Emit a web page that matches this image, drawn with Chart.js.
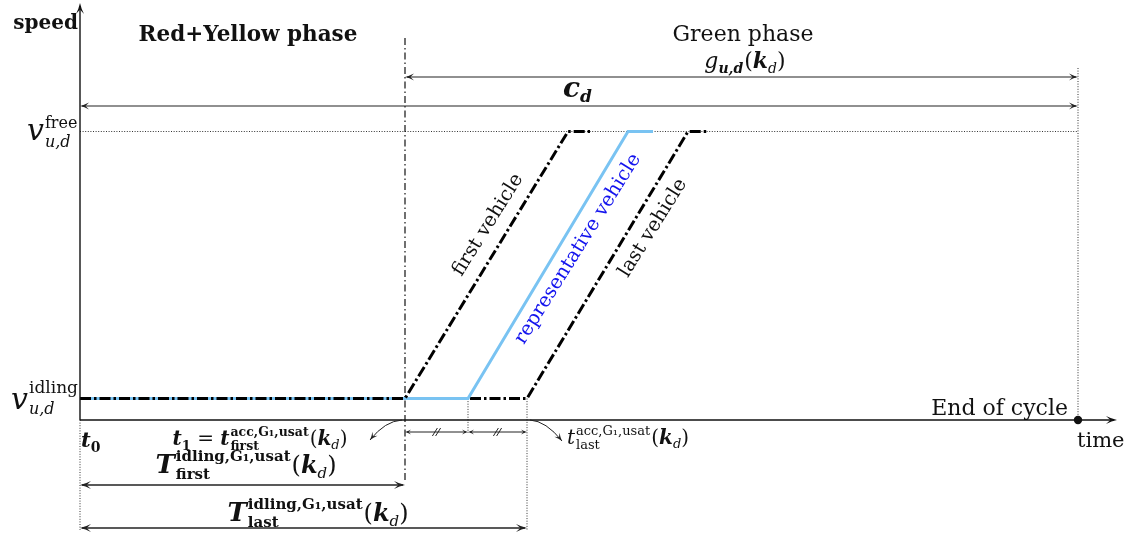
<!DOCTYPE html>
<html>
<head>
<meta charset="utf-8">
<script src="https://cdn.jsdelivr.net/npm/chart.js@4.4.0/dist/chart.umd.min.js"></script>
<style>
  html, body { margin: 0; padding: 0; background: #fff; }
  canvas { display: block; }
</style>
</head>
<body>
<canvas id="chart" width="1138" height="539"></canvas>
<script>
// speed levels
const vIdle = 2.15;
const vFree = 28.85;

// vehicle trajectories (time stamps, shared speed profile)
const firstTimes = [0, 32.5, 48.8, 51.0];
const repTimes = [0, 38.8, 54.8, 57.3];
const lastTimes = [0, 44.7, 60.8, 62.8];
const profileSpeeds = [vIdle, vIdle, vFree, vFree];

// cycle timing
const t1 = firstTimes[1];
const tRep = repTimes[1];
const tLast = lastTimes[1];
const cycleEnd = 99.8;

const INK = '#111';
const BLUE_LINE = '#79c3f2';
const BLUE_TEXT = '#1414ee';
const SERIF = '"DejaVu Serif", "Liberation Serif", serif';
const R = s => `normal ${s}px ${SERIF}`;
const I = s => `italic ${s}px ${SERIF}`;
const B = s => `bold ${s}px ${SERIF}`;
const BI = s => `italic bold ${s}px ${SERIF}`;

function toPoints(times) {
  return times.map((t, i) => ({ x: t, y: profileSpeeds[i] }));
}

// text made of runs; a run with stack:true starts where the previous one did
function drawMath(ctx, runs, x, y, align, color) {
  let cx = 0, start = 0;
  const placed = [];
  for (const r of runs) {
    ctx.font = r.f;
    const w = ctx.measureText(r.t).width;
    const sx = r.stack ? start : cx + (r.dx || 0);
    start = sx;
    placed.push({ r, sx });
    cx = Math.max(cx, sx + w);
  }
  let ox = x;
  if (align === 'center') ox = x - cx / 2;
  else if (align === 'right') ox = x - cx;
  ctx.fillStyle = color || INK;
  ctx.textAlign = 'left';
  ctx.textBaseline = 'alphabetic';
  for (const p of placed) {
    ctx.font = p.r.f;
    ctx.fillText(p.r.t, ox + p.sx, y + (p.r.dy || 0));
  }
}

function drawRotated(ctx, text, x, y, ang, f, color) {
  ctx.save();
  ctx.translate(x, y);
  ctx.rotate(ang);
  ctx.font = f;
  ctx.fillStyle = color;
  ctx.textAlign = 'center';
  ctx.textBaseline = 'middle';
  ctx.fillText(text, 0, 0);
  ctx.restore();
}

function arrowHead(ctx, x, y, ang, len, half) {
  ctx.save();
  ctx.translate(x, y);
  ctx.rotate(ang);
  ctx.beginPath();
  ctx.moveTo(0, 0);
  ctx.quadraticCurveTo(-len * 0.5, -half * 0.3, -len, -half);
  ctx.lineTo(-len * 0.6, 0);
  ctx.lineTo(-len, half);
  ctx.quadraticCurveTo(-len * 0.5, half * 0.3, 0, 0);
  ctx.fill();
  ctx.restore();
}

function hLine(ctx, xa, xb, y, dash, lw) {
  ctx.save();
  ctx.setLineDash(dash || []);
  ctx.lineWidth = lw || 1;
  ctx.beginPath();
  ctx.moveTo(xa, y);
  ctx.lineTo(xb, y);
  ctx.stroke();
  ctx.restore();
}

function vLine(ctx, x, ya, yb, dash, lw) {
  ctx.save();
  ctx.setLineDash(dash || []);
  ctx.lineWidth = lw || 1;
  ctx.beginPath();
  ctx.moveTo(x, ya);
  ctx.lineTo(x, yb);
  ctx.stroke();
  ctx.restore();
}

function dimArrow(ctx, xa, xb, y, len, half, lw) {
  hLine(ctx, xa + 2, xb - 2, y, null, lw);
  arrowHead(ctx, xa, y, Math.PI, len, half);
  arrowHead(ctx, xb, y, 0, len, half);
}

function curvedArrow(ctx, s, c, e) {
  ctx.save();
  ctx.lineWidth = 1;
  ctx.beginPath();
  ctx.moveTo(s[0], s[1]);
  ctx.quadraticCurveTo(c[0], c[1], e[0], e[1]);
  ctx.stroke();
  arrowHead(ctx, e[0], e[1], Math.atan2(e[1] - c[1], e[0] - c[0]), 8, 3.2);
  ctx.restore();
}

const DOTTED = [1, 1.6];

const diagram = {
  id: 'diagram',
  beforeDatasetsDraw(chart) {
    const { ctx, scales: { x, y } } = chart;
    const X = t => x.getPixelForValue(t);
    const Y = v => y.getPixelForValue(v);
    ctx.save();
    ctx.strokeStyle = '#333';
    // free-flow speed guide and end-of-cycle guide
    hLine(ctx, X(0), X(cycleEnd), Y(vFree), DOTTED, 1);
    vLine(ctx, X(cycleEnd), Y(35.2), Y(0), DOTTED, 1);
    // start of green
    ctx.strokeStyle = INK;
    vLine(ctx, X(t1), Y(38.2), Y(-6.3), [7, 3, 1.5, 3], 1.2);
    // acceleration start guides
    ctx.strokeStyle = '#333';
    vLine(ctx, X(tRep), Y(vIdle), Y(-1.3), DOTTED, 1);
    vLine(ctx, X(tLast), Y(vIdle), Y(-11), DOTTED, 1);
    vLine(ctx, X(0), Y(0), Y(-11), DOTTED, 1);
    ctx.restore();
  },
  afterDatasetsDraw(chart) {
    const { ctx, scales: { x, y } } = chart;
    const X = t => x.getPixelForValue(t);
    const Y = v => y.getPixelForValue(v);
    ctx.save();
    ctx.strokeStyle = INK;
    ctx.fillStyle = INK;

    // axes
    vLine(ctx, X(0), Y(0), Y(41.4), null, 1.4);
    arrowHead(ctx, X(0), Y(41.7), -Math.PI / 2, 11, 4);
    hLine(ctx, X(0), X(103.4), Y(0), null, 1.4);
    arrowHead(ctx, X(103.7), Y(0), 0, 11, 4);
    ctx.beginPath();
    ctx.arc(X(cycleEnd), Y(0), 4.2, 0, Math.PI * 2);
    ctx.fill();

    // durations
    ctx.strokeStyle = '#222';
    ctx.fillStyle = '#222';
    dimArrow(ctx, X(t1), X(cycleEnd), Y(34.3), 9, 3.4, 1.2);
    dimArrow(ctx, X(0), X(cycleEnd), Y(31.4), 9, 3.4, 1.2);
    dimArrow(ctx, X(0), X(t1), Y(-6.5), 11, 4, 1.3);
    dimArrow(ctx, X(0), X(tLast), Y(-10.8), 11, 4, 1.3);
    dimArrow(ctx, X(t1), X(tRep), Y(-1.2), 6, 2.6, 1);
    dimArrow(ctx, X(tRep), X(tLast), Y(-1.2), 6, 2.6, 1);
    // equal-length ticks
    ctx.lineWidth = 1;
    for (const m of [(t1 + tRep) / 2, (tRep + tLast) / 2]) {
      for (const off of [-1.6, 1.6]) {
        ctx.beginPath();
        ctx.moveTo(X(m) + off - 2.5, Y(-1.2) + 4);
        ctx.lineTo(X(m) + off + 2.5, Y(-1.2) - 4);
        ctx.stroke();
      }
    }
    curvedArrow(ctx, [X(t1) - 3, Y(0)], [X(t1) - 20, Y(-0.1)], [X(t1) - 35, Y(-2.0)]);
    curvedArrow(ctx, [X(tLast) + 3, Y(0)], [X(tLast) + 19, Y(-0.1)], [X(tLast) + 35, Y(-2.1)]);

    // axis and phase labels
    drawMath(ctx, [{ t: 'speed', f: B(20) }], X(-0.2), Y(39.1), 'right');
    drawMath(ctx, [{ t: 'Red+Yellow phase', f: B(21.5) }], X(16.8), Y(37.9), 'center');
    drawMath(ctx, [{ t: 'Green phase', f: R(22) }], X(66.3), Y(37.9), 'center');
    drawMath(ctx, [{ t: 'End of cycle', f: R(22) }], X(98.8), Y(0.5), 'right');
    drawMath(ctx, [{ t: 'time', f: R(21) }], X(99.7), Y(-2.7), 'left');

    drawMath(ctx, [
      { t: 'g', f: I(22) }, { t: 'u,d', f: BI(14), dy: 5 },
      { t: '(', f: R(22), dx: 1 }, { t: 'k', f: BI(22) }, { t: 'd', f: I(14), dy: 5 }, { t: ')', f: R(22) }
    ], X(66.5), Y(35.2), 'center');

    drawMath(ctx, [{ t: 'c', f: BI(28) }, { t: 'd', f: BI(17), dy: 5 }], X(48.3), Y(32.3), 'left');

    drawMath(ctx, [
      { t: 'v', f: I(30) }, { t: 'free', f: R(16), dy: -12, dx: 1 }, { t: 'u,d', f: I(16), dy: 7, stack: true }
    ], X(-5.3), Y(28.0), 'left');
    drawMath(ctx, [
      { t: 'v', f: I(30) }, { t: 'idling', f: R(17), dy: -16, dx: 1 }, { t: 'u,d', f: I(16), dy: 5, stack: true }
    ], X(-6.9), Y(1.1), 'left');

    drawMath(ctx, [{ t: 't', f: BI(21) }, { t: '0', f: B(14), dy: 5 }], X(0.1), Y(-2.7), 'left');

    drawMath(ctx, [
      { t: 't', f: BI(20) }, { t: '1', f: B(13), dy: 5 }, { t: ' = ', f: R(20) }, { t: 't', f: BI(20) },
      { t: 'acc,G\u2081,usat', f: B(12.5), dy: -9, dx: 1 }, { t: 'first', f: B(12.5), dy: 5, stack: true },
      { t: '(', f: R(20), dx: 1 }, { t: 'k', f: BI(20) }, { t: 'd', f: I(13), dy: 4 }, { t: ')', f: R(20) }
    ], X(18.0), Y(-2.5), 'center');

    const bigT = tail => [
      { t: 'T', f: BI(26) },
      { t: 'idling,G\u2081,usat', f: B(15), dy: -12, dx: 1 }, { t: tail, f: B(15), dy: 6, stack: true },
      { t: '(', f: R(24), dx: 1 }, { t: 'k', f: BI(24) }, { t: 'd', f: I(15), dy: 5 }, { t: ')', f: R(24) }
    ];
    drawMath(ctx, bigT('first'), X(16.6), Y(-5.3), 'center');
    drawMath(ctx, bigT('last'), X(23.8), Y(-10.1), 'center');

    drawMath(ctx, [
      { t: 't', f: I(20) },
      { t: 'acc,G\u2081,usat', f: R(13), dy: -9, dx: 1 }, { t: 'last', f: R(13), dy: 5, stack: true },
      { t: '(', f: R(20), dx: 1 }, { t: 'k', f: BI(20) }, { t: 'd', f: I(13), dy: 4 }, { t: ')', f: R(20) }
    ], X(48.7), Y(-2.4), 'left');

    // trajectory labels, parallel to the acceleration ramps
    const ang = -58 * Math.PI / 180;
    drawRotated(ctx, 'first vehicle', X(40.8), Y(19.5), ang, R(19.5), INK);
    drawRotated(ctx, 'representative vehicle', X(49.8), Y(17.1), ang, R(19.5), BLUE_TEXT);
    drawRotated(ctx, 'last vehicle', X(57.3), Y(19.2), ang, R(19.5), INK);
    ctx.restore();
  }
};

const dashDot = [11, 3, 2.5, 3];

new Chart(document.getElementById('chart'), {
  type: 'scatter',
  data: {
    datasets: [
      { label: 'first vehicle', data: toPoints(firstTimes), borderColor: '#000', borderWidth: 3, borderDash: dashDot, order: 0 },
      { label: 'representative vehicle', data: toPoints(repTimes), borderColor: BLUE_LINE, borderWidth: 3, order: 1 },
      { label: 'last vehicle', data: toPoints(lastTimes), borderColor: '#000', borderWidth: 3, borderDash: dashDot, order: 2 }
    ]
  },
  options: {
    responsive: false,
    animation: false,
    showLine: true,
    layout: { padding: { left: 80, right: 23, top: 5, bottom: 119 } },
    elements: { point: { radius: 0, hoverRadius: 0 }, line: { tension: 0, fill: false, borderCapStyle: 'butt' } },
    plugins: { legend: { display: false }, tooltip: { enabled: false } },
    scales: {
      x: { type: 'linear', min: 0, max: 103.5, display: false },
      y: { type: 'linear', min: 0, max: 41.5, display: false }
    }
  },
  plugins: [diagram]
});
</script>
</body>
</html>
